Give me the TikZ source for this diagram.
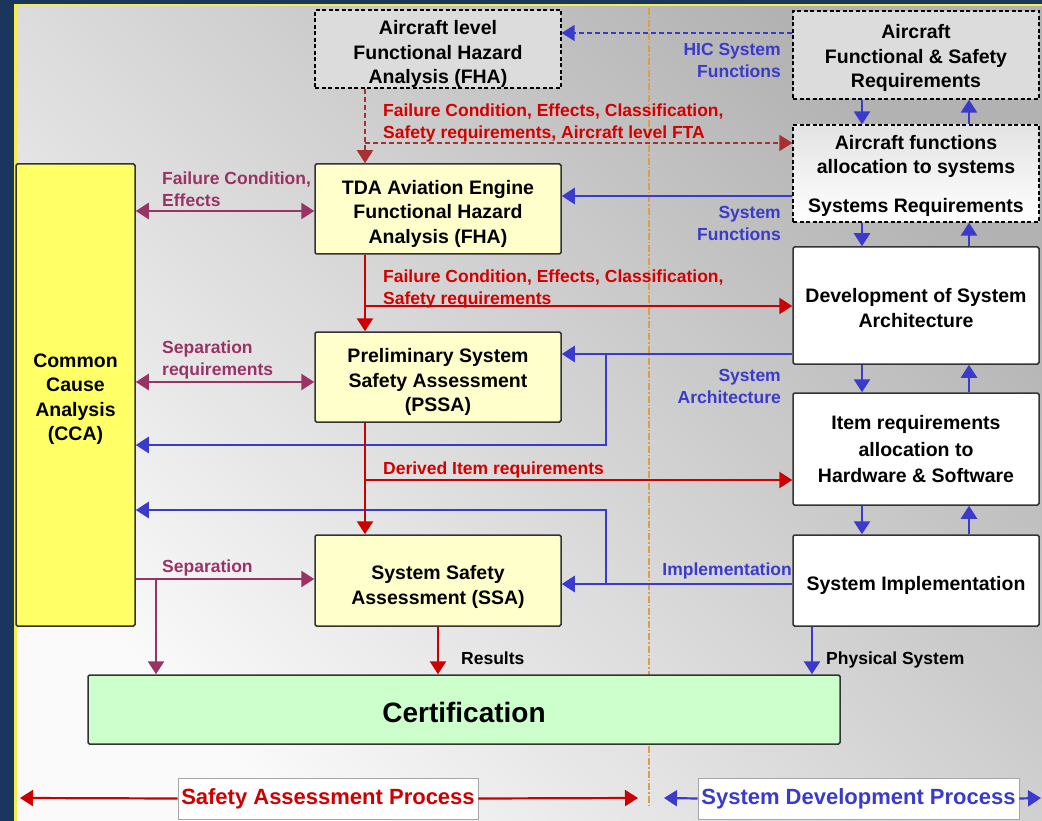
\documentclass[tikz,border=0pt]{standalone}
\usepackage{fontspec}
\setmainfont{Liberation Sans}
\usetikzlibrary{arrows.meta}

\definecolor{navy}{HTML}{1B365D}
\definecolor{rimyellow}{HTML}{F2EF4A}
\definecolor{panelDark}{HTML}{B2B2B2}
\definecolor{panelLight}{HTML}{FAFAFA}
\definecolor{boxyellow}{HTML}{FFFFCC}
\definecolor{ccayellow}{HTML}{FFFF66}
\definecolor{certgreen}{HTML}{CCFFCC}
\definecolor{dashgray}{HTML}{DCDCDC}
\definecolor{flowred}{HTML}{CC0000}
\definecolor{labelred}{HTML}{D40000}
\definecolor{dashred}{HTML}{A83030}
\definecolor{flowblue}{HTML}{3A3ACC}
\definecolor{flowpurple}{HTML}{993366}
\definecolor{divider}{HTML}{D9A04A}
\definecolor{edge}{HTML}{333333}

\begin{document}
\begin{tikzpicture}[x=1pt,y=-1pt,
  boxtext/.style={align=center, text=black, inner sep=0pt,
    font=\fontsize{19.5}{24.5}\selectfont\bfseries, text depth=0pt},
  textTop/.style={text height=#1pt},
  solidbox/.style={boxtext, draw=edge, line width=1.5pt, rounded corners=1.5pt},
  dashbox/.style={boxtext, draw=black, line width=1.2pt, dash pattern=on 4pt off 2.5pt},
  sized/.style 2 args={minimum width=#1pt, minimum height=#2pt},
  lbl/.style={inner sep=0pt, font=\fontsize{17.5}{22}\selectfont\bfseries},
  redlabel/.style={lbl, text=labelred, align=left, anchor=west},
  bluelabel/.style={lbl, text=flowblue, align=right, anchor=east},
  purplelabel/.style={lbl, text=flowpurple, align=left, anchor=west},
  blacklabel/.style={lbl, text=black, anchor=west},
  head/.style={-{Triangle[length=13pt,width=16pt]}},
  heads/.style={{Triangle[length=13pt,width=16pt]}-{Triangle[length=13pt,width=16pt]}},
  redwire/.style={draw=flowred, line width=2.6pt},
  bluewire/.style={draw=flowblue, line width=2.6pt},
  purplewire/.style={draw=flowpurple, line width=2.6pt},
  reddashwire/.style={draw=dashred, line width=1.5pt, dash pattern=on 5pt off 3pt},
  bluedashwire/.style={draw=flowblue, line width=1.5pt, dash pattern=on 5pt off 3pt},
  procbox/.style={draw=gray!70, line width=0.8pt, fill=white, inner sep=0pt,
    font=\fontsize{22}{26}\selectfont\bfseries}
]
\useasboundingbox (0,0) rectangle (1042,821);

% frame and shaded panel
\fill[navy] (0,0) rectangle (1042,821);
\shade[top color=panelDark, bottom color=panelLight, shading angle=-45] (16,6) rectangle (1042,821);
\fill[rimyellow] (14,4) rectangle (1042,6.5);
\fill[rimyellow] (14,4) rectangle (16.5,821);

% divider between the two processes
\draw[divider, line width=1.2pt, dash pattern=on 7pt off 2pt on 1.5pt off 2pt] (649,8) -- (649,806);

% safety assessment side
\node[dashbox, fill=dashgray, sized={246}{78}, textTop=70] (afha) at (438,49)
  {Aircraft level\\Functional Hazard\\Analysis (FHA)};
\node[solidbox, fill=boxyellow, sized={246}{90}, textTop=69] (fha) at (438,209)
  {TDA Aviation Engine\\Functional Hazard\\Analysis (FHA)};
\node[solidbox, fill=boxyellow, sized={246}{90}, textTop=69] (pssa) at (438,377)
  {Preliminary System\\Safety Assessment\\(PSSA)};
\node[solidbox, fill=boxyellow, sized={246}{91}, textTop=47.5] (ssa) at (438,580.5)
  {System Safety\\Assessment (SSA)};
\node[solidbox, fill=ccayellow, sized={119}{462}, textTop=91.5] (cca) at (75.5,395)
  {Common\\Cause\\Analysis\\(CCA)};
\node[solidbox, fill=certgreen, sized={752}{69}, font=\fontsize{28}{32}\selectfont\bfseries, textTop=26.5] (cert) at (464,709.5)
  {Certification};

% system development side
\node[dashbox, fill=dashgray, sized={246}{88}, textTop=66] (afsr) at (916,55)
  {Aircraft\\Functional \& Safety\\Requirements};
\node[dashbox, top color=gray!22, bottom color=white, sized={246}{97}] (alloc) at (916,173.5)
  {Aircraft functions\\allocation to systems\\[14pt]Systems Requirements};
\node[solidbox, fill=white, sized={246}{117}, textTop=43.5] (dsa) at (916,305.5)
  {Development of System\\Architecture};
\node[solidbox, fill=white, sized={246}{112}, font=\fontsize{19.5}{26.5}\selectfont\bfseries] (item) at (916,449)
  {Item requirements\\allocation to\\Hardware \& Software};
\node[solidbox, fill=white, sized={246}{91}, textTop=20.5] (simp) at (916,580.5)
  {System Implementation};

% process captions
\node[procbox, text=flowred, sized={300}{41}] (sap) at (328,798.5) {Safety Assessment Process};
\node[procbox, text=flowblue, sized={321}{41}] (sdp) at (858.5,798.5) {System Development Process};

% routing lines
\coordinate (xFHA) at (365,0);
\coordinate (xDown) at (862,0);
\coordinate (xUp) at (969,0);
\coordinate (xFork) at (606,0);
\coordinate (xSep) at (156,0);
\coordinate (xPhys) at (812,0);
\coordinate (yHIC) at (0,33);
\coordinate (yFTA) at (0,143);
\coordinate (ySF) at (0,196);
\coordinate (yFE) at (0,211);
\coordinate (yFC) at (0,306);
\coordinate (yArch) at (0,354);
\coordinate (ySR) at (0,382);
\coordinate (yArchCCA) at (0,445);
\coordinate (yDer) at (0,480);
\coordinate (yImpCCA) at (0,510);
\coordinate (yImp) at (0,584);
\coordinate (ySep) at (0,579);
\coordinate (farL) at (20,798);
\coordinate (midL) at (638,798);
\coordinate (midR) at (664,798);
\coordinate (farR) at (1041,798);

% aircraft level hazard analysis outputs
\draw[reddashwire, head] (afha.south -| xFHA) -- (fha.north -| xFHA);
\draw[reddashwire, head] (xFHA |- yFTA) -- (alloc.west |- yFTA);
\draw[bluedashwire, head] (afsr.west |- yHIC) -- (afha.east |- yHIC);

% development chain, down and up
\draw[bluewire, head] (afsr.south -| xDown) -- (alloc.north -| xDown);
\draw[bluewire, head] (alloc.north -| xUp) -- (afsr.south -| xUp);
\draw[bluewire, head] (alloc.south -| xDown) -- (dsa.north -| xDown);
\draw[bluewire, head] (dsa.north -| xUp) -- (alloc.south -| xUp);
\draw[bluewire, head] (dsa.south -| xDown) -- (item.north -| xDown);
\draw[bluewire, head] (item.north -| xUp) -- (dsa.south -| xUp);
\draw[bluewire, head] (item.south -| xDown) -- (simp.north -| xDown);
\draw[bluewire, head] (simp.north -| xUp) -- (item.south -| xUp);

% development back to safety assessment
\draw[bluewire, head] (alloc.west |- ySF) -- (fha.east |- ySF);
\draw[bluewire, head] (dsa.west |- yArch) -- (pssa.east |- yArch);
\draw[bluewire, head] (xFork |- yArch) -- (xFork |- yArchCCA) -- (cca.east |- yArchCCA);
\draw[bluewire, head] (simp.west |- yImp) -- (ssa.east |- yImp);
\draw[bluewire, head] (xFork |- yImp) -- (xFork |- yImpCCA) -- (cca.east |- yImpCCA);
\draw[bluewire, head] (simp.south -| xPhys) -- (cert.north -| xPhys);

% safety assessment chain
\draw[redwire, head] (fha.south -| xFHA) -- (pssa.north -| xFHA);
\draw[redwire, head] (xFHA |- yFC) -- (dsa.west |- yFC);
\draw[redwire, head] (pssa.south -| xFHA) -- (ssa.north -| xFHA);
\draw[redwire, head] (xFHA |- yDer) -- (item.west |- yDer);
\draw[redwire, head] (ssa.south) -- (cert.north -| ssa.south);

% common cause analysis links
\draw[purplewire, heads] (cca.east |- yFE) -- (fha.west |- yFE);
\draw[purplewire, heads] (cca.east |- ySR) -- (pssa.west |- ySR);
\draw[purplewire, head] (cca.east |- ySep) -- (ssa.west |- ySep);
\draw[purplewire, head] (xSep |- ySep) -- (cert.north -| xSep);

% process extents
\draw[redwire, line width=2.2pt, head] (sap.west) -- (farL);
\draw[redwire, line width=2.2pt, head] (sap.east) -- (midL);
\draw[bluewire, line width=2.2pt, head] (sdp.west) -- (midR);
\draw[bluewire, line width=2.2pt, head] (sdp.east) -- (farR);

% connector captions
\node[redlabel] (lblFTA) at (383,123) {Failure Condition, Effects, Classification,\\Safety requirements, Aircraft level FTA};
\node[bluelabel] (lblHIC) at (781,60) {HIC System\\Functions};
\node[bluelabel] (lblSF) at (781,223) {System\\Functions};
\node[redlabel] (lblFC) at (383,289) {Failure Condition, Effects, Classification,\\Safety requirements};
\node[bluelabel] (lblArch) at (781,386) {System\\Architecture};
\node[redlabel] (lblDer) at (383,470) {Derived Item requirements};
\node[bluelabel] (lblImp) at (792,571) {Implementation};
\node[blacklabel] (lblRes) at (461,658) {Results};
\node[blacklabel] (lblPhys) at (826,660) {Physical System};
\node[purplelabel] (lblFE) at (162,189) {Failure Condition,\\Effects};
\node[purplelabel] (lblSR) at (162,360) {Separation\\requirements};
\node[purplelabel] (lblSep) at (162,568) {Separation};
\end{tikzpicture}
\end{document}
